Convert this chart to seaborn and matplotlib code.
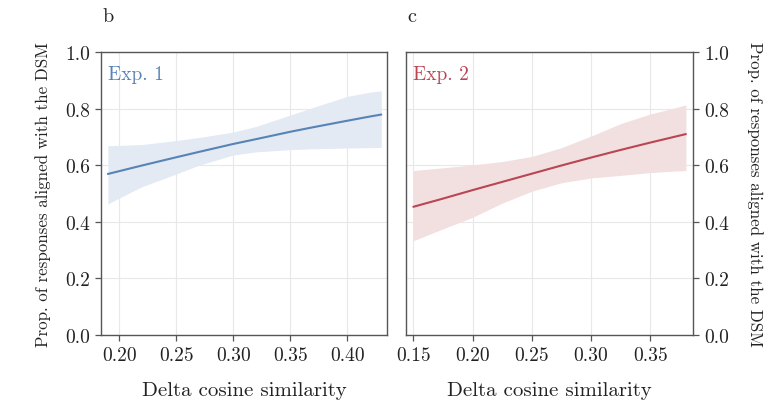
import numpy as np
import pandas as pd
import matplotlib
matplotlib.use("Agg")
import matplotlib.pyplot as plt
import seaborn as sns

# Experiment 1: fitted proportion and 95% band over delta cosine similarity
exp1_x = [0.19, 0.20, 0.22, 0.25, 0.27, 0.30, 0.32, 0.35, 0.37, 0.40, 0.42, 0.43]
exp1_fit = [0.569, 0.579, 0.599, 0.628, 0.647, 0.675, 0.692, 0.718, 0.734, 0.757, 0.772, 0.779]
exp1_lo = [0.463, 0.484, 0.524, 0.569, 0.600, 0.636, 0.647, 0.655, 0.658, 0.661, 0.662, 0.663]
exp1_hi = [0.669, 0.670, 0.673, 0.687, 0.698, 0.717, 0.737, 0.777, 0.804, 0.843, 0.858, 0.863]

# Experiment 2
exp2_x = [0.15, 0.175, 0.20, 0.225, 0.25, 0.275, 0.30, 0.325, 0.35, 0.37, 0.38]
exp2_fit = [0.453, 0.482, 0.512, 0.541, 0.570, 0.599, 0.627, 0.654, 0.680, 0.700, 0.710]
exp2_lo = [0.333, 0.375, 0.416, 0.466, 0.508, 0.538, 0.555, 0.564, 0.574, 0.579, 0.581]
exp2_hi = [0.581, 0.591, 0.601, 0.613, 0.631, 0.662, 0.703, 0.747, 0.781, 0.802, 0.813]

panels = [
    dict(tag="b", name="Exp. 1", x=exp1_x, fit=exp1_fit, lo=exp1_lo, hi=exp1_hi,
         color="#5783b6", band="#e3eaf3", xlim=(0.184, 0.435),
         xticks=[0.20, 0.25, 0.30, 0.35, 0.40]),
    dict(tag="c", name="Exp. 2", x=exp2_x, fit=exp2_fit, lo=exp2_lo, hi=exp2_hi,
         color="#b94652", band="#f2e0e1", xlim=(0.1438, 0.386),
         xticks=[0.15, 0.20, 0.25, 0.30, 0.35]),
]

sns.set_theme(style="white")
plt.rcParams["font.family"] = ["cmr10", "DejaVu Serif"]
plt.rcParams["mathtext.fontset"] = "cm"
plt.rcParams["axes.formatter.use_mathtext"] = True
plt.rcParams["axes.unicode_minus"] = False

fig = plt.figure(figsize=(7.71, 4.02), dpi=100)
W, H = 771, 402
boxes = [(101, 53, 387, 336), (406, 53, 693, 336)]

ylabel = "Prop. of responses aligned with the DSM"
ink = "#222222"
spine_c = "#555555"

for i, (p, (l, t, r, b)) in enumerate(zip(panels, boxes)):
    ax = fig.add_axes([l / W, 1 - b / H, (r - l) / W, (b - t) / H])
    df = pd.DataFrame({"x": p["x"], "y": p["fit"]})
    ax.fill_between(p["x"], p["lo"], p["hi"], color=p["band"], lw=0, zorder=1)
    sns.lineplot(data=df, x="x", y="y", ax=ax, color=p["color"], lw=1.5, zorder=3)

    ax.set_xlim(*p["xlim"])
    ax.set_ylim(0, 1)
    ax.set_xticks(p["xticks"])
    ax.set_xticklabels([f"{v:.2f}" for v in p["xticks"]])
    yt = [0.0, 0.2, 0.4, 0.6, 0.8, 1.0]
    ax.set_yticks(yt)
    ax.set_yticklabels([f"{v:.1f}" for v in yt])
    ax.grid(True, color="#e8e8e8", lw=0.8, zorder=0)
    ax.set_axisbelow(True)
    for s in ax.spines.values():
        s.set_color(spine_c)
        s.set_linewidth(1.0)
    ax.tick_params(axis="both", which="both", direction="out", length=4, width=0.9,
                   color=spine_c, labelsize=14, labelcolor=ink, pad=4)
    ax.set_xlabel("Delta cosine similarity", fontsize=15, color=ink, labelpad=12)
    if i == 0:
        ax.set_ylabel(ylabel, fontsize=12.2, color=ink, labelpad=10)
        ax.tick_params(left=True, bottom=True)
    else:
        ax.yaxis.tick_right()
        ax.yaxis.set_label_position("right")
        ax.tick_params(right=True, left=False, bottom=True)
        ax.set_ylabel(ylabel, fontsize=12.2, color=ink, rotation=270, labelpad=24)

    ax.text(0.025, 0.955, p["name"], transform=ax.transAxes, fontsize=14,
            color=p["color"], ha="left", va="top")
    fig.text((l + 1) / W, 1 - 17 / H, p["tag"], fontsize=14.5, color=ink,
             ha="left", va="center")

fig.savefig("out.png", dpi=100, facecolor="white")
